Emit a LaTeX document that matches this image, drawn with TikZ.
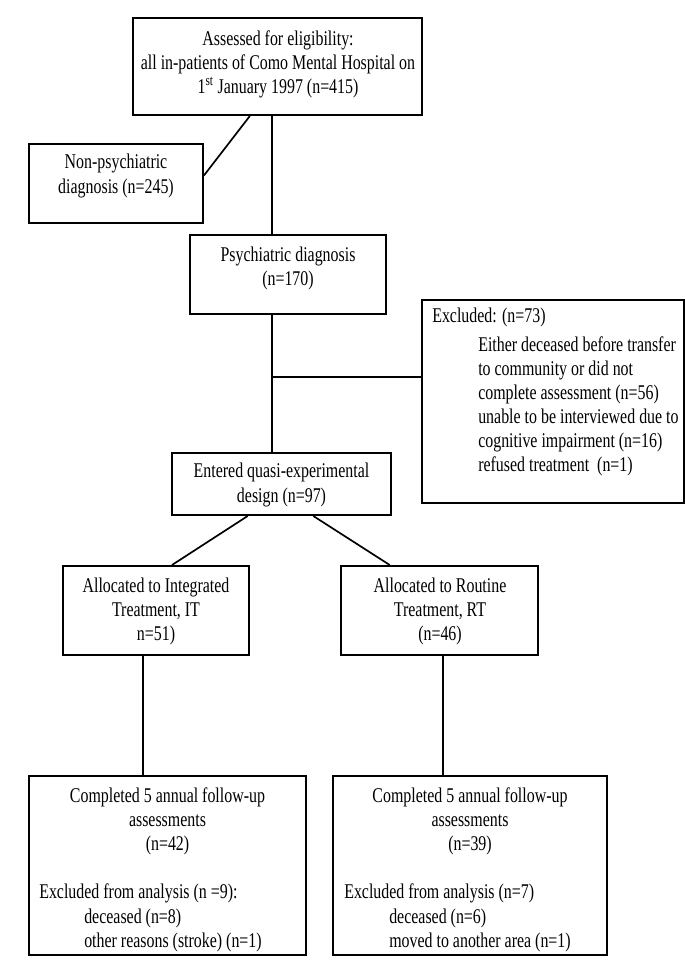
\documentclass[tikz,border=0pt]{standalone}
\usepackage{fontspec}
\setmainfont{Liberation Serif}[FakeStretch=0.76]
\usetikzlibrary{calc}

\tikzset{
    box/.style={draw, line width=1.4pt, inner sep=0pt},
    lbl/.style={font=\fontsize{14.9}{17.1}\selectfont, inner sep=0pt, align=center},
    lbll/.style={font=\fontsize{14.9}{17.1}\selectfont, inner sep=0pt, align=left, anchor=west},
    link/.style={line width=1.2pt}
}

\begin{document}
\begin{tikzpicture}[x=0.025cm, y=-0.025cm]
    \useasboundingbox (0,0) rectangle (685,969);

    % boxes
    \node[box, minimum width=7.225cm, minimum height=2.425cm] (top) at (277.5,66.5) {};
    \node[box, minimum width=4.35cm, minimum height=1.975cm] (nonpsych) at (116,183.5) {};
    \node[box, minimum width=4.9cm, minimum height=1.975cm] (psych) at (288,274.5) {};
    \node[box, minimum width=6.55cm, minimum height=5.075cm] (excluded) at (553,401.5) {};
    \node[box, minimum width=5.475cm, minimum height=1.55cm] (entered) at (281.5,484) {};
    \node[box, minimum width=4.65cm, minimum height=2.225cm] (it) at (156,610.5) {};
    \node[box, minimum width=4.925cm, minimum height=2.225cm] (rt) at (439.5,610.5) {};
    \node[box, minimum width=6.925cm, minimum height=4.475cm] (fuit) at (167.5,865.5) {};
    \node[box, minimum width=6.85cm, minimum height=4.475cm] (furt) at (470,865.5) {};

    % texts
    \node[lbl] (toptxt) at (278,64) {Assessed for eligibility:\\all in-patients of Como Mental Hospital on\\1\textsuperscript{st} January 1997 (n=415)};
    \node[lbl] (nonpsychtxt) at (116,176) {Non-psychiatric\\diagnosis (n=245)};
    \node[lbl] (psychtxt) at (288,268) {Psychiatric diagnosis\\(n=170)};
    \node[lbll] (exhead) at (432,317) {Excluded: (n=73)};
    \node[lbll] (exlist) at (478,406) {Either deceased before transfer\\to community or did not\\complete assessment (n=56)\\unable to be interviewed due to\\cognitive impairment (n=16)\\refused treatment\ \ (n=1)};
    \node[lbl] (enteredtxt) at (281.5,485) {Entered quasi-experimental\\design (n=97)};
    \node[lbl] (ittxt) at (156,611) {Allocated to Integrated\\Treatment, IT\\n=51)};
    \node[lbl] (rttxt) at (440,611) {Allocated to Routine\\Treatment, RT\\(n=46)};
    \node[lbl] (fuittxt) at (167.5,821) {Completed 5 annual follow-up\\assessments\\(n=42)};
    \node[lbll] (exithead) at (39,893) {Excluded from analysis (n =9):};
    \node[lbll] (exitlist) at (84,930) {deceased (n=8)\\other reasons (stroke) (n=1)};
    \node[lbl] (furttxt) at (470,821) {Completed 5 annual follow-up\\assessments\\(n=39)};
    \node[lbll] (exrthead) at (344,893) {Excluded from analysis (n=7)};
    \node[lbll] (exrtlist) at (389,930) {deceased (n=6)\\moved to another area (n=1)};

    % connectors
    \coordinate (spine) at (272,377);
    \draw[link] ($(top.south west)!0.405!(top.south east)$) -- ($(nonpsych.north east)!0.4!(nonpsych.south east)$);
    \draw[link] (spine |- top.south) -- (spine |- psych.north);
    \draw[link] (spine |- psych.south) -- (spine |- entered.north);
    \draw[link] (spine) -- (spine -| excluded.west);
    \draw[link] ($(entered.south west)!0.347!(entered.south east)$) -- ($(it.north west)!0.585!(it.north east)$);
    \draw[link] ($(entered.south west)!0.644!(entered.south east)$) -- ($(rt.north west)!0.25!(rt.north east)$);
    \draw[link] ($(it.south west)!0.43!(it.south east)$) coordinate (itdrop) -- (itdrop |- fuit.north);
    \draw[link] ($(rt.south west)!0.518!(rt.south east)$) coordinate (rtdrop) -- (rtdrop |- furt.north);
\end{tikzpicture}
\end{document}
